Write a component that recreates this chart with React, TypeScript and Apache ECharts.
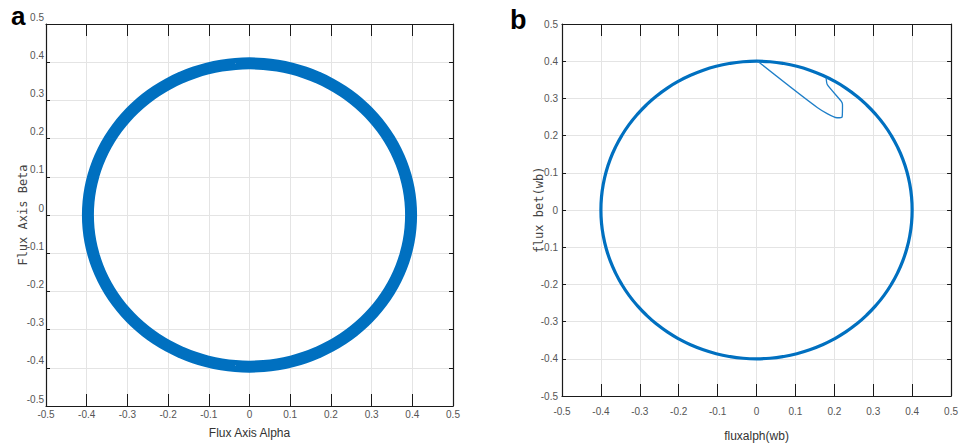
import React, { useEffect, useRef } from "react";
import * as echarts from "echarts";

// Panel a: stator flux locus (alpha / beta), steady state, sampled every 5 degrees
const alphaA = [
  0.397, 0.3955, 0.391, 0.3835, 0.3731, 0.3598, 0.3438, 0.3252, 0.3041, 0.2807,
  0.2552, 0.2277, 0.1985, 0.1678, 0.1358, 0.1028, 0.0689, 0.0346, 0,
  -0.0346, -0.0689, -0.1028, -0.1358, -0.1678, -0.1985, -0.2277, -0.2552, -0.2807,
  -0.3041, -0.3252, -0.3438, -0.3598, -0.3731, -0.3835, -0.391, -0.3955, -0.397,
  -0.3955, -0.391, -0.3835, -0.3731, -0.3598, -0.3438, -0.3252, -0.3041, -0.2807,
  -0.2552, -0.2277, -0.1985, -0.1678, -0.1358, -0.1028, -0.0689, -0.0346, 0,
  0.0346, 0.0689, 0.1028, 0.1358, 0.1678, 0.1985, 0.2277, 0.2552, 0.2807,
  0.3041, 0.3252, 0.3438, 0.3598, 0.3731, 0.3835, 0.391, 0.3955, 0.397, 0.3955,
];
const betaA = [
  0, 0.0346, 0.0689, 0.1028, 0.1358, 0.1678, 0.1985, 0.2277, 0.2552, 0.2807,
  0.3041, 0.3252, 0.3438, 0.3598, 0.3731, 0.3835, 0.391, 0.3955, 0.397,
  0.3955, 0.391, 0.3835, 0.3731, 0.3598, 0.3438, 0.3252, 0.3041, 0.2807,
  0.2552, 0.2277, 0.1985, 0.1678, 0.1358, 0.1028, 0.0689, 0.0346, 0,
  -0.0346, -0.0689, -0.1028, -0.1358, -0.1678, -0.1985, -0.2277, -0.2552, -0.2807,
  -0.3041, -0.3252, -0.3438, -0.3598, -0.3731, -0.3835, -0.391, -0.3955, -0.397,
  -0.3955, -0.391, -0.3835, -0.3731, -0.3598, -0.3438, -0.3252, -0.3041, -0.2807,
  -0.2552, -0.2277, -0.1985, -0.1678, -0.1358, -0.1028, -0.0689, -0.0346, 0, 0.0346,
];

// Panel b: flux locus in steady state, sampled every 5 degrees
const alphaB = [
  0.4, 0.3985, 0.3939, 0.3864, 0.3759, 0.3625, 0.3464, 0.3277, 0.3064, 0.2828,
  0.2571, 0.2294, 0.2, 0.169, 0.1368, 0.1035, 0.0695, 0.0349, 0,
  -0.0349, -0.0695, -0.1035, -0.1368, -0.169, -0.2, -0.2294, -0.2571, -0.2828,
  -0.3064, -0.3277, -0.3464, -0.3625, -0.3759, -0.3864, -0.3939, -0.3985, -0.4,
  -0.3985, -0.3939, -0.3864, -0.3759, -0.3625, -0.3464, -0.3277, -0.3064, -0.2828,
  -0.2571, -0.2294, -0.2, -0.169, -0.1368, -0.1035, -0.0695, -0.0349, 0,
  0.0349, 0.0695, 0.1035, 0.1368, 0.169, 0.2, 0.2294, 0.2571, 0.2828,
  0.3064, 0.3277, 0.3464, 0.3625, 0.3759, 0.3864, 0.3939, 0.3985, 0.4, 0.3985,
];
const betaB = [
  0, 0.0349, 0.0695, 0.1035, 0.1368, 0.169, 0.2, 0.2294, 0.2571, 0.2828,
  0.3064, 0.3277, 0.3464, 0.3625, 0.3759, 0.3864, 0.3939, 0.3985, 0.4,
  0.3985, 0.3939, 0.3864, 0.3759, 0.3625, 0.3464, 0.3277, 0.3064, 0.2828,
  0.2571, 0.2294, 0.2, 0.169, 0.1368, 0.1035, 0.0695, 0.0349, 0,
  -0.0349, -0.0695, -0.1035, -0.1368, -0.169, -0.2, -0.2294, -0.2571, -0.2828,
  -0.3064, -0.3277, -0.3464, -0.3625, -0.3759, -0.3864, -0.3939, -0.3985, -0.4,
  -0.3985, -0.3939, -0.3864, -0.3759, -0.3625, -0.3464, -0.3277, -0.3064, -0.2828,
  -0.2571, -0.2294, -0.2, -0.169, -0.1368, -0.1035, -0.0695, -0.0349, 0, 0.0349,
];

// Panel b: start-up transient before the flux settles on the circle
const alphaStart = [0.003, 0.157, 0.207, 0.22, 0.221, 0.218, 0.182, 0.179];
const betaStart = [0.4, 0.275, 0.248, 0.25, 0.283, 0.292, 0.337, 0.355];

const axisMin = -0.5;
const axisMax = 0.5;
const axisStep = 0.1;

const panelLetters = ["a", "b"];
const xNames = ["Flux Axis Alpha", "fluxalph(wb)"];
const yNames = ["Flux Axis Beta", "flux bet(wb)"];

const lineBlue = "#0070c0";
const frame = "#1a1a1a";
const gridGray = "#e4e4e4";
const tickFont = "'Liberation Sans Narrow', 'Liberation Sans', sans-serif";

const fmt = (v: number) => {
  const r = Math.round(v * 10) / 10;
  return r === 0 ? "0" : String(r);
};

const pairs = (xs: number[], ys: number[]) => xs.map((x, i) => [x, ys[i]]);

export default function App() {
  const ref = useRef<HTMLDivElement>(null);

  useEffect(() => {
    document.body.style.margin = "0";
    if (!ref.current) return;
    const chart = echarts.init(ref.current, null, { renderer: "svg" });

    const grids = [
      { left: 46, top: 24, width: 407, height: 382 },
      { left: 562, top: 24, width: 396, height: 374 },
    ];

    const xAxes: any[] = [];
    const yAxes: any[] = [];
    const xLabelMargin = [3, 10];
    const xNameGap = [21, 34];
    const yNameGap = [17, 17];

    grids.forEach((_, g) => {
      const base = {
        type: "value",
        gridIndex: g,
        min: axisMin,
        max: axisMax,
        interval: axisStep,
        axisLine: {
          show: true,
          onZero: false,
          lineStyle: { color: frame, width: 1.2 },
        },
      };
      xAxes.push({
        ...base,
        position: "bottom",
        axisTick: { inside: true, length: 12, lineStyle: { color: frame } },
        axisLabel: {
          margin: xLabelMargin[g],
          formatter: fmt,
          fontFamily: tickFont,
          fontSize: 10,
          color: "#555",
        },
        splitLine: { show: true, lineStyle: { color: gridGray, width: 1 } },
        name: xNames[g],
        nameLocation: "middle",
        nameGap: xNameGap[g],
        nameMoveOverlap: false,
        nameTextStyle: {
          fontFamily: tickFont,
          fontSize: 12,
          color: "#333",
          verticalAlign: "top",
        },
      });
      xAxes.push({
        ...base,
        position: "top",
        axisTick: { inside: true, length: 12, lineStyle: { color: frame } },
        axisLabel: { show: false },
        splitLine: { show: false },
      });
      yAxes.push({
        ...base,
        position: "left",
        axisTick: { inside: true, length: 4, lineStyle: { color: frame } },
        axisLabel: {
          margin: g === 0 ? 2 : 4,
          formatter: fmt,
          fontFamily: tickFont,
          fontSize: 10,
          color: "#555",
          verticalAlign: g === 0 ? "bottom" : "middle",
          padding: g === 0 ? [0, 0, 2, 0] : 0,
        },
        splitLine: { show: true, lineStyle: { color: gridGray, width: 1 } },
        name: yNames[g],
        nameLocation: "middle",
        nameGap: yNameGap[g],
        nameMoveOverlap: false,
        nameTextStyle: {
          fontFamily: "'DejaVu Sans Mono', monospace",
          fontSize: 12,
          color: "#444",
        },
      });
      yAxes.push({
        ...base,
        position: "right",
        axisTick: { inside: true, length: 4, lineStyle: { color: frame } },
        axisLabel: { show: false },
        splitLine: { show: false },
      });
    });

    chart.setOption({
      animation: false,
      backgroundColor: "#ffffff",
      title: [
        {
          text: panelLetters[0],
          left: 6,
          top: -2,
          textStyle: {
            fontFamily: "'Liberation Sans', Arial, sans-serif",
            fontWeight: "bold",
            fontSize: 26,
            color: "#000",
          },
        },
        {
          text: panelLetters[1],
          left: 505,
          top: 1,
          textStyle: {
            fontFamily: "'Liberation Sans', Arial, sans-serif",
            fontWeight: "bold",
            fontSize: 27,
            color: "#000",
          },
        },
      ],
      grid: grids,
      xAxis: xAxes,
      yAxis: yAxes,
      series: [
        {
          type: "line",
          xAxisIndex: 0,
          yAxisIndex: 0,
          data: pairs(alphaA, betaA),
          smooth: true,
          symbol: "none",
          lineStyle: { color: lineBlue, width: 12 },
        },
        {
          type: "line",
          xAxisIndex: 2,
          yAxisIndex: 2,
          data: pairs(alphaB, betaB),
          smooth: true,
          symbol: "none",
          lineStyle: { color: lineBlue, width: 3.2 },
        },
        {
          type: "line",
          xAxisIndex: 2,
          yAxisIndex: 2,
          data: pairs(alphaStart, betaStart),
          smooth: 0.2,
          symbol: "none",
          lineStyle: { color: "#1f7fc8", width: 1.3 },
        },
      ],
    });

    return () => chart.dispose();
  }, []);

  return <div ref={ref} style={{ width: 961, height: 447 }} />;
}
